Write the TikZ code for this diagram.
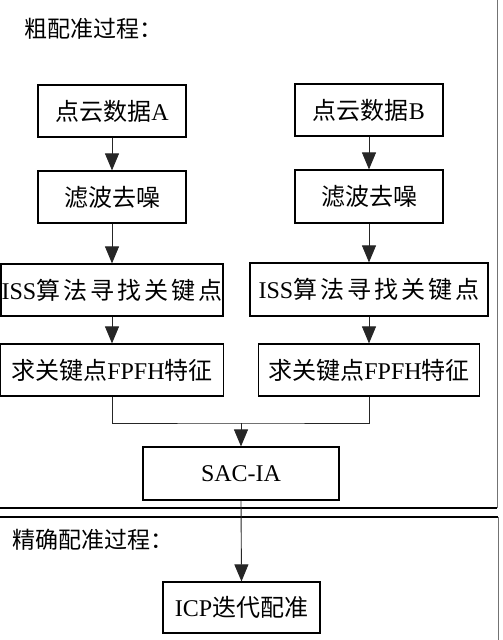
\documentclass[tikz,border=0pt]{standalone}
\usepackage{fontspec}
\setmainfont{Liberation Serif}
\newfontfamily\cjk{Noto Sans CJK SC}
\usetikzlibrary{arrows.meta}
\begin{document}
\begin{tikzpicture}[x=1pt,y=-1pt,
  box/.style={draw=black,line width=1.2pt,fill=white,inner sep=0pt,font=\fontsize{24pt}{28pt}\selectfont},
  conn/.style={line width=0.9pt,draw=black!85},
  arr/.style={conn,-{Triangle[width=14pt,length=17pt]}},
  frame/.style={line width=1pt,draw=black!55},
  ttl/.style={anchor=west,inner sep=0pt,font=\fontsize{23pt}{27pt}\selectfont\cjk}]
\useasboundingbox (0,0) rectangle (503,640);
\clip (0,0) rectangle (503,640);
\fill[white] (0,0) rectangle (503,640);
% frames
\draw[frame] (-10,-10) -- (497,-10) -- (497,508);
\draw[line width=2pt] (-10,508) -- (497,508);
\draw[frame] (498,650) -- (498,517);
\draw[line width=1.2pt] (498,517) -- (-10,517);
% titles
\node[ttl] (t1) at (24,29) {粗配准过程：};
\node[ttl] (t2) at (12,540) {精确配准过程：};
% boxes
\node[box,minimum width=148pt,minimum height=52pt] (a1) at (112,111) {{\cjk 点云数据}A};
\node[box,minimum width=148pt,minimum height=52pt] (b1) at (369,110) {{\cjk 点云数据}B};
\node[box,minimum width=148pt,minimum height=52pt] (a2) at (112,197) {\cjk 滤波去噪};
\node[box,minimum width=148pt,minimum height=53pt] (b2) at (369,196.5) {\cjk 滤波去噪};
\node[box,minimum width=222pt,minimum height=52pt] (a3) at (112,290) {ISS{\cjk 算\hspace{3pt}法\hspace{3pt}寻\hspace{3pt}找\hspace{3pt}关\hspace{3pt}键\hspace{3pt}点}};
\node[box,minimum width=238pt,minimum height=53pt] (b3) at (369,289.5) {ISS{\cjk 算\hspace{3pt}法\hspace{3pt}寻\hspace{3pt}找\hspace{3pt}关\hspace{3pt}键\hspace{3pt}点}};
\node[box,minimum width=223pt,minimum height=52pt] (a4) at (112,370) {{\cjk 求关键点}FPFH{\cjk 特征}};
\node[box,minimum width=221pt,minimum height=52pt] (b4) at (369,370) {{\cjk 求关键点}FPFH{\cjk 特征}};
\node[box,minimum width=196pt,minimum height=53pt] (sac) at (241,473.5) {SAC-IA};
\node[box,minimum width=157pt,minimum height=51pt] (icp) at (241.5,607.5) {ICP{\cjk 迭代配准}};
% connectors
\draw[arr] (a1) -- (a2);
\draw[arr] (b1) -- (b2);
\draw[arr] (a2) -- (a3);
\draw[arr] (b2) -- (b3);
\draw[arr] (a3) -- (a4);
\draw[arr] (b3) -- (b4);
\coordinate (m) at (sac.north |- 0,423);
\draw[conn] (a4.south) |- (m) -| (b4.south);
\draw[arr] (m) -- (sac.north);
\draw[arr] (sac.south) -- (icp.north);
\end{tikzpicture}
\end{document}
